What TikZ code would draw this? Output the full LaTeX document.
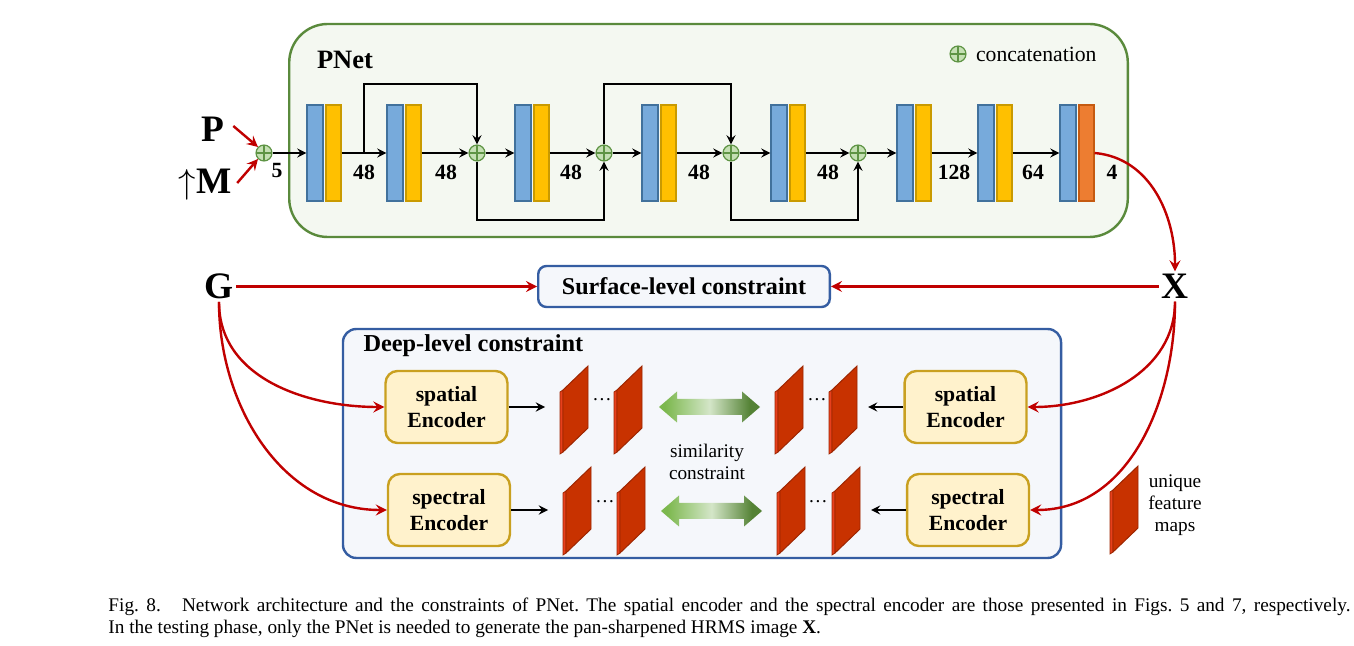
\documentclass[tikz,border=0pt]{standalone}
\usepackage{fontspec}
\setmainfont{Liberation Serif}
\usetikzlibrary{positioning}
\frenchspacing

\definecolor{pnetline}{HTML}{5A8A3C}
\definecolor{pnetfill}{HTML}{F4F8F1}
\definecolor{catfill}{HTML}{C5E0B4}
\definecolor{catline}{HTML}{5E9444}
\definecolor{convblue}{HTML}{77AADB}
\definecolor{convline}{HTML}{41719C}
\definecolor{actyellow}{HTML}{FFC000}
\definecolor{actline}{HTML}{C99A00}
\definecolor{outorange}{HTML}{ED7D31}
\definecolor{orgline}{HTML}{C55A11}
\definecolor{arrred}{HTML}{C00000}
\definecolor{boxblue}{HTML}{355DA2}
\definecolor{boxfill}{HTML}{F5F7FB}
\definecolor{encfill}{HTML}{FFF2CC}
\definecolor{encline}{HTML}{C9A020}
\definecolor{mapred}{HTML}{C83200}
\definecolor{mapedge}{HTML}{9C2500}
\definecolor{mapside}{HTML}{E8401C}
\definecolor{simlight}{HTML}{7CB84E}
\definecolor{simmid}{HTML}{D4E6C8}
\definecolor{simdark}{HTML}{548235}

\pgfdeclarehorizontalshading{simshade}{100bp}{color(0bp)=(simlight);
  color(28bp)=(simlight); color(50bp)=(simmid); color(70bp)=(simdark);
  color(100bp)=(simdark)}

% one feature map: name, left x, top y of front edge
\newcommand{\featmap}[3]{%
  \filldraw[fill=mapside, draw=mapedge, line width=0.3pt] (#2,#3+2) --
  (#2+3,#3) -- (#2+3,#3+62) -- (#2,#3+64) -- cycle;
  \filldraw[fill=mapred, draw=mapedge, line width=0.4pt] (#2+3,#3) --
  (#2+28,#3-24) -- (#2+28,#3+38) -- (#2+3,#3+62) -- cycle;
  \coordinate (#1) at (#2+15,#3+19);}
% similarity double arrow: left tip x, y
\newcommand{\simarrow}[2]{%
  \shade[shading=simshade] (#1,#2) -- ++(18,-15.5) -- ++(0,7.5) --
  ++(65,0) -- ++(0,-7.5) -- ++(18,15.5) -- ++(-18,15.5) -- ++(0,-7.5) --
  ++(-65,0) -- ++(0,7.5) -- cycle;}

\begin{document}
\begin{tikzpicture}[x=0.415pt, y=-0.415pt,
  conv/.style={draw=convline, fill=convblue, line width=0.5pt,
    minimum width=6.6pt, minimum height=39.8pt, inner sep=0pt},
  act/.style={conv, draw=actline, fill=actyellow, minimum width=6.2pt},
  outp/.style={conv, draw=orgline, fill=outorange, minimum width=6.2pt},
  cat/.style={circle, draw=catline, fill=catfill, line width=0.5pt,
    minimum size=6.6pt, inner sep=0pt,
    path picture={\draw[catline, line width=0.5pt]
      (path picture bounding box.north) -- (path picture bounding box.south)
      (path picture bounding box.west) -- (path picture bounding box.east);}},
  lbl/.style={font=\fontsize{9}{10}\selectfont\bfseries, inner sep=0pt},
  big/.style={font=\fontsize{15.5}{16}\selectfont\bfseries, inner sep=1pt},
  enc/.style={draw=encline, fill=encfill, line width=1pt, rounded corners=5pt,
    minimum width=50.6pt, minimum height=29.9pt, align=center, inner sep=0pt,
    font=\fontsize{9}{10.8}\selectfont\bfseries},
  cbox/.style={draw=boxblue, fill=boxfill, line width=1pt},
  arr/.style={-stealth, line width=0.7pt},
  redarr/.style={-stealth, draw=arrred, line width=1pt}]
  \useasboundingbox (0,0) rectangle (1354,646);

  % PNet frame
  \node[draw=pnetline, fill=pnetfill, line width=1pt, rounded corners=16pt,
  minimum width=348pt, minimum height=88.4pt] (pnet) at (708.5,130.5) {};
  \node[font=\fontsize{11}{12}\selectfont\bfseries] (pnetlbl) at (345,60)
  {PNet};
  \node[cat] (leg) at (958,54) {};
  \node[right=0.4pt of leg, font=\fontsize{9}{10}\selectfont] (legtxt)
  {concatenation};

  % layers
  \foreach \i/\x in {1/307,2/387,3/515,4/642,5/771,6/897,7/978} {
    \node[conv] (b\i) at (\x+8,153) {};
    \node[act] (y\i) at (\x+26.5,153) {};
  }
  \node[conv] (b8) at (1068,153) {};
  \node[outp] (y8) at (1086.5,153) {};

  % concatenations
  \node[cat] (cat0) at (264,153) {};
  \node[cat] (cat1) at (477,153) {};
  \node[cat] (cat2) at (604,153) {};
  \node[cat] (cat3) at (731,153) {};
  \node[cat] (cat4) at (858,153) {};

  % inputs
  \node[big] (P) at (213,129) {P};
  \node[big] (M) at (205,185) {$\uparrow$M};
  \draw[redarr] ([shift={(6,-3)}]P.east) -- (cat0.north west);
  \draw[redarr] ([shift={(3,-2)}]M.east) -- (cat0.south west);

  % main path
  \draw[arr] (cat0) -- (b1);
  \draw[arr] (y1) -- (b2);
  \draw[arr] (y2) -- (cat1);
  \draw[arr] (cat1) -- (b3);
  \draw[arr] (y3) -- (cat2);
  \draw[arr] (cat2) -- (b4);
  \draw[arr] (y4) -- (cat3);
  \draw[arr] (cat3) -- (b5);
  \draw[arr] (y5) -- (cat4);
  \draw[arr] (cat4) -- (b6);
  \draw[arr] (y6) -- (b7);
  \draw[arr] (y7) -- (b8);

  % skip connections
  \coordinate (s1) at (364,153);
  \draw[arr] (s1) -- (s1 |- 0,84) -| (cat1);
  \draw[arr] (cat1) -- (cat1 |- 0,220) -| (cat2);
  \draw[arr] (cat2) -- (cat2 |- 0,84) -| (cat3);
  \draw[arr] (cat3) -- (cat3 |- 0,220) -| (cat4);

  % channel numbers
  \node[lbl] (n0) at (277,171) {5};
  \node[lbl] (n1) at (364,172) {48};
  \node[lbl] (n2) at (446,172) {48};
  \node[lbl] (n3) at (571,172) {48};
  \node[lbl] (n4) at (699,172) {48};
  \node[lbl] (n5) at (828,172) {48};
  \node[lbl] (n6) at (954,172) {128};
  \node[lbl] (n7) at (1033,172) {64};
  \node[lbl] (n8) at (1112,172) {4};

  % surface-level constraint
  \node[big] (G) at (219,286.5) {G};
  \node[big] (X) at (1175,286.5) {X};
  \node[cbox, rounded corners=3.4pt, minimum width=121pt, minimum height=17pt,
  font=\fontsize{10}{12}\selectfont\bfseries] (surf) at (684,286.5)
  {Surface-level constraint};
  \draw[redarr] (y8.east) to[out=-5, in=90] (X.north);
  \draw[redarr] (G) -- (surf);
  \draw[redarr] (X) -- (surf);

  % deep-level constraint
  \node[cbox, rounded corners=5.5pt, minimum width=298pt, minimum height=95pt]
  (deep) at (702,443.5) {};
  \node[anchor=west, font=\fontsize{10.1}{12}\selectfont\bfseries] (deeplbl)
  at (355,346) {Deep-level constraint};
  \node[enc] (sp1) at (446.5,407) {spatial\\Encoder};
  \node[enc] (se1) at (449,510) {spectral\\Encoder};
  \node[enc] (sp2) at (965.5,407) {spatial\\Encoder};
  \node[enc] (se2) at (968,510) {spectral\\Encoder};

  \featmap{ml1}{560}{390} \featmap{ml2}{614}{390}
  \featmap{mr1}{775}{390} \featmap{mr2}{829}{390}
  \featmap{nl1}{563}{491} \featmap{nl2}{617}{491}
  \featmap{nr1}{777}{491} \featmap{nr2}{832}{491}
  \node[font=\fontsize{8}{9}\selectfont] (d1) at (602,400) {\dots};
  \node[font=\fontsize{8}{9}\selectfont] (d2) at (817,400) {\dots};
  \node[font=\fontsize{8}{9}\selectfont] (d3) at (605,502) {\dots};
  \node[font=\fontsize{8}{9}\selectfont] (d4) at (818,502) {\dots};

  \coordinate (a1) at (545,407);
  \coordinate (a2) at (548,510);
  \coordinate (a3) at (868,407);
  \coordinate (a4) at (871,510);
  \draw[arr] (sp1) -- (a1);
  \draw[arr] (se1) -- (a2);
  \draw[arr] (sp2) -- (a3);
  \draw[arr] (se2) -- (a4);

  \simarrow{659}{407}
  \simarrow{661}{511}
  \node[font=\fontsize{8}{9.1}\selectfont, align=center] (sim) at (707,462)
  {similarity\\constraint};

  \draw[redarr] (G.south) to[out=-90, in=180] (sp1.west);
  \draw[redarr] (G.south) to[out=-90, in=180] (se1.west);
  \draw[redarr] (X.south) to[out=-90, in=0] (sp2.east);
  \draw[redarr] (X.south) to[out=-90, in=0] (se2.east);

  % legend
  \featmap{mleg}{1110}{490}
  \node[font=\fontsize{8}{9.1}\selectfont, align=center] (legmap) at (1175,505)
  {unique\\feature\\maps};

  % caption
  \node[anchor=north west, inner sep=0pt, text width=515.4pt, align=justify,
  font=\fontsize{8}{9.4}\selectfont] (caption) at (108,597)
  {Fig. 8.\hspace{1.1em}Network architecture and the constraints of PNet. The
  spatial encoder and the spectral encoder are those presented in Figs. 5 and
  7, respectively.\linebreak In the testing phase, only the PNet is needed to
  generate the pan-sharpened HRMS image \textbf{X}.};
\end{tikzpicture}
\end{document}
